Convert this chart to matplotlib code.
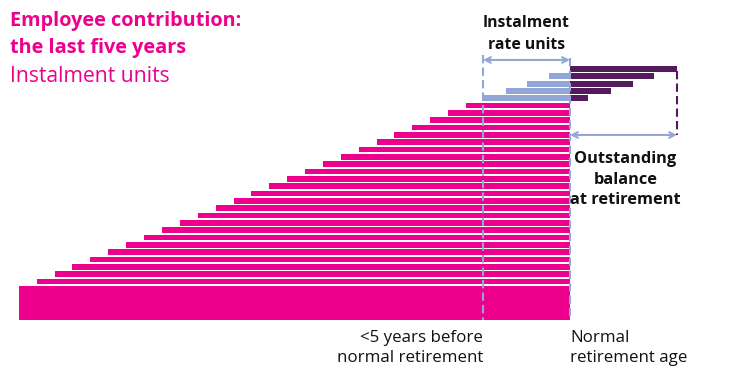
import matplotlib.pyplot as plt
import numpy as np

# 横軸: 定年時点を0とした単位, 縦軸: 行番号(上から)
pink_len = [104, 122, 140, 158, 176, 193, 211, 229, 247, 265, 283, 301, 319,
            336, 354, 372, 390, 408, 426, 444, 462, 480, 498, 515, 533]
block_len = 551
blue_len = [21, 43, 64, 87]          # instalment rate units (left of retirement)
purple_len = [107, 84, 63, 41, 18]   # outstanding balance (right of retirement)

PINK = '#EC008C'
BLUE = '#93A6D8'
PURPLE = '#531B5C'
plt.rcParams['font.family'] = ['Open Sans', 'DejaVu Sans']

fig = plt.figure(figsize=(7.41, 3.84), dpi=100)
ax = fig.add_axes([0, 0, 1, 1])
ax.set_xlim(-570, 171)
ax.set_ylim(42.97, -9.41)
ax.axis('off')

h = 0.78
purple_rows = np.arange(0, 5)
blue_rows = np.arange(1, 5)
pink_rows = np.arange(5, 5 + len(pink_len))

ax.barh(purple_rows, purple_len, left=0, height=h, color=PURPLE)
ax.barh(blue_rows, -np.array(blue_len), left=0, height=h, color=BLUE)
ax.barh(pink_rows, -np.array(pink_len), left=0, height=h, color=PINK)
ax.barh(31.9, -block_len, left=0, height=4.6, color=PINK)

rate_w = blue_len[-1]
bal_w = purple_len[0]
# dashed guides
ax.plot([-rate_w, -rate_w], [-1.9, 34.2], color=BLUE, lw=1.5, ls=(0, (4, 2)))
ax.plot([0, 0], [-1.5, 34.2], color=BLUE, lw=1.5, ls=(0, (4, 2)))
ax.plot([bal_w, bal_w], [0.3, 9.0], color=PURPLE, lw=1.5, ls=(0, (4, 2)))

ax.annotate('', xy=(-rate_w, -1.23), xytext=(0, -1.23),
            arrowprops=dict(arrowstyle='<->', color=BLUE, lw=1.5, shrinkA=0, shrinkB=0))
ax.annotate('', xy=(0, 9.0), xytext=(bal_w, 9.0),
            arrowprops=dict(arrowstyle='<->', color=BLUE, lw=1.5, shrinkA=0, shrinkB=0))

ax.text(-rate_w / 2, -4.8, 'Instalment\nrate units', ha='center', va='center',
        fontsize=11.3, fontweight='bold', color='#111111', linespacing=1.5)
ax.text(bal_w / 2 + 2, 15.1, 'Outstanding\nbalance\nat retirement', ha='center', va='center',
        fontsize=11.8, fontweight='bold', color='#111111', linespacing=1.4)
ax.text(-rate_w, 38.1, '<5 years before\nnormal retirement', ha='right', va='center',
        fontsize=12.2, color='#111111', linespacing=1.35)
ax.text(0, 38.1, 'Normal\nretirement age', ha='left', va='center',
        fontsize=12.2, color='#111111', linespacing=1.35)

fig.text(10 / 741, 1 - 21 / 384, 'Employee contribution:', ha='left', va='center',
         fontsize=14.3, fontweight='bold', color=PINK)
fig.text(10 / 741, 1 - 48 / 384, 'the last five years', ha='left', va='center',
         fontsize=14.3, fontweight='bold', color=PINK)
fig.text(10 / 741, 1 - 76 / 384, 'Instalment units', ha='left', va='center',
         fontsize=15.2, color=PINK)

fig.savefig('out.png', dpi=100)
